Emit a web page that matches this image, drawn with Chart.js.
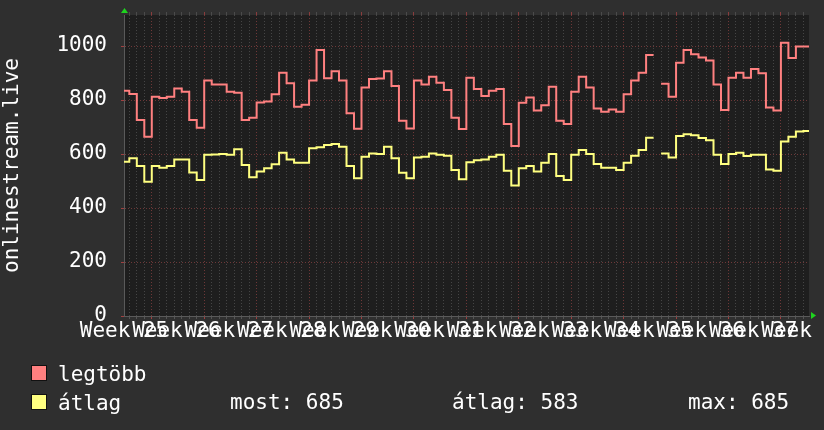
<!DOCTYPE html>
<html>
<head>
<meta charset="utf-8">
<title>onlinestream.live</title>
<script src="https://cdn.jsdelivr.net/npm/chart.js@4/dist/chart.umd.min.js"></script>
<style>
  body { margin: 0; background: #2f2f2f; }
  #wrap { width: 824px; height: 430px; }
</style>
</head>
<body>
<div id="wrap"><canvas id="myChart" width="824" height="430"></canvas></div>
<script>
// daily values, one per day (null = missing day)
const legtobb = [
  834, 822, 726, 664, 812, 808, 812, 843, 831, 726, 697, 872, 858, 858, 831, 827,
  726, 734, 791, 795, 821, 901, 862, 775, 783, 872, 985, 881, 907, 872, 751, 694,
  846, 878, 880, 907, 852, 723, 695, 872, 858, 886, 864, 837, 734, 693, 883, 841,
  815, 834, 841, 711, 630, 790, 809, 761, 781, 849, 723, 711, 831, 886, 846, 769,
  757, 765, 757, 821, 872, 901, 967, null, 860, 812, 938, 985, 970, 958, 946, 858,
  763, 883, 901, 883, 915, 899, 772, 761, 1012, 956, 998, 998
];
const atlag = [
  571, 584, 556, 497, 556, 549, 556, 580, 580, 532, 504, 597, 598, 600, 597, 618,
  559, 514, 535, 547, 562, 605, 580, 568, 568, 621, 625, 633, 637, 627, 556, 510,
  590, 602, 600, 627, 584, 531, 510, 587, 590, 602, 597, 594, 541, 507, 570, 577,
  580, 590, 597, 538, 483, 547, 556, 535, 568, 600, 519, 504, 597, 615, 600, 563,
  549, 549, 541, 568, 594, 615, 660, null, 602, 587, 667, 673, 670, 659, 651, 597,
  563, 600, 605, 593, 597, 597, 543, 538, 646, 664, 683, 685
];
const weekLabels = ['Week 25', 'Week 26', 'Week 27', 'Week 28', 'Week 29', 'Week 30', 'Week 31',
  'Week 32', 'Week 33', 'Week 34', 'Week 35', 'Week 36', 'Week 37', 'Week 38'];
const yTicks = [0, 200, 400, 600, 800, 1000];
const legendRows = ['legtöbb', 'átlag'];
const stats = ['most: 685', 'átlag: 583', 'max: 685'];

const X_MIN = 0.29, X_MAX = 91.75;
const Y_MAX = 1115;
const FONT = { family: "'DejaVu Sans Mono', monospace", size: 21 };
const RED = '#ff8080', YELLOW = '#ffff80';
const GRID_MINOR = '#454545', GRID_MAJOR = '#6e3838';

// each day becomes a flat segment [i, i+1]
function steps(vals) {
    let pts = [];
    vals.forEach((v, i) => {
        if (v === null) { pts.push({ x: i + 0.5, y: null }); return; }
        pts.push({ x: i, y: v }, { x: i + 1, y: v });
    });
    return pts;
}

let dayLines = [];
for (let d = 1; d <= 91; d++) dayLines.push(d);
let hLines = [];
for (let v = 0; v <= 1100; v += 100) hLines.push(v);

const isWeek = v => (v - 4) % 7 === 0;

const extras = {
    id: 'extras',
    beforeDraw(chart) {
        const { ctx, chartArea: a } = chart;
        ctx.save();
        ctx.fillStyle = '#2f2f2f';
        ctx.fillRect(0, 0, chart.width, chart.height);
        ctx.fillStyle = '#1e1e1e';
        ctx.fillRect(a.left, a.top, a.right - a.left, a.bottom - a.top);
        ctx.restore();
    },
    afterDraw(chart) {
        const { ctx, chartArea: a } = chart;
        ctx.save();
        // axis arrows
        ctx.fillStyle = '#1fd31f';
        ctx.beginPath();
        ctx.moveTo(a.left - 3, a.top - 2);
        ctx.lineTo(a.left + 4, a.top - 2);
        ctx.lineTo(a.left + 0.5, a.top - 7);
        ctx.fill();
        ctx.beginPath();
        ctx.moveTo(a.right + 2, a.bottom - 4);
        ctx.lineTo(a.right + 2, a.bottom + 3);
        ctx.lineTo(a.right + 7, a.bottom - 0.5);
        ctx.fill();

        // legend
        ctx.font = FONT.size + 'px ' + FONT.family;
        ctx.textBaseline = 'alphabetic';
        const colors = [RED, YELLOW];
        legendRows.forEach((t, i) => {
            const y = 365 + i * 29;
            ctx.fillStyle = colors[i];
            ctx.fillRect(31, y, 16, 16);
            ctx.strokeStyle = '#111';
            ctx.lineWidth = 1;
            ctx.strokeRect(31.5, y + 0.5, 15, 15);
            ctx.fillStyle = '#ffffff';
            ctx.fillText(t, 58, y + 16);
        });
        const sx = [230, 452, 688];
        stats.forEach((t, i) => ctx.fillText(t, sx[i], 409));
        ctx.restore();
    }
};

const ctx = document.getElementById('myChart').getContext('2d');
const myChart = new Chart(ctx, {
    type: 'line',
    data: {
        datasets: [
            { label: 'legtöbb', data: steps(legtobb), borderColor: RED, borderWidth: 2, pointRadius: 0, clip: 0, xAxisID: 'x', yAxisID: 'y' },
            { label: 'átlag', data: steps(atlag), borderColor: YELLOW, borderWidth: 2, pointRadius: 0, clip: 0, xAxisID: 'x', yAxisID: 'y' }
        ]
    },
    options: {
        responsive: false,
        animation: false,
        layout: { padding: { top: 15, right: 15, bottom: 84, left: 0 } },
        plugins: { legend: { display: false }, tooltip: { enabled: false } },
        scales: {
            xg: {
                type: 'linear', position: 'bottom', min: X_MIN, max: X_MAX,
                afterBuildTicks: s => { s.ticks = dayLines.map(v => ({ value: v })); },
                ticks: { display: false },
                grid: {
                    color: c => isWeek(c.tick.value) ? GRID_MAJOR : GRID_MINOR,
                    tickColor: c => isWeek(c.tick.value) ? '#a04040' : '#555',
                    tickLength: 3
                },
                border: { display: false, dash: [1, 2] },
                afterFit: s => { s.height = 0; s.paddingLeft = 0; s.paddingRight = 0; }
            },
            xtop: {
                type: 'linear', position: 'top', min: X_MIN, max: X_MAX,
                afterBuildTicks: s => { s.ticks = dayLines.map(v => ({ value: v })); },
                ticks: { display: false },
                grid: {
                    drawOnChartArea: false,
                    tickColor: c => isWeek(c.tick.value) ? '#8a3c3c' : '#4a4a4a',
                    tickLength: 3
                },
                border: { display: false },
                afterFit: s => { s.height = 0; s.paddingLeft = 0; s.paddingRight = 0; }
            },
            x: {
                type: 'linear', position: 'bottom', min: X_MIN, max: X_MAX,
                afterBuildTicks: s => { s.ticks = weekLabels.map((l, i) => ({ value: X_MIN + 7 * i })); },
                ticks: {
                    autoSkip: false, maxRotation: 0, minRotation: 0, padding: 3,
                    color: '#ffffff', font: FONT,
                    callback: (v, i) => weekLabels[i]
                },
                grid: { display: false, drawTicks: false },
                border: { display: true, color: '#5a5a5a', width: 1 },
                afterFit: s => { s.height = 30; s.paddingLeft = 0; s.paddingRight = 0; }
            },
            y: {
                type: 'linear', position: 'left', min: 0, max: Y_MAX,
                afterBuildTicks: s => { s.ticks = hLines.map(v => ({ value: v })); },
                ticks: {
                    color: '#ffffff', font: FONT, padding: 14,
                    callback: v => yTicks.includes(v) ? String(v) : ''
                },
                grid: {
                    color: c => c.tick.value % 200 === 0 ? GRID_MAJOR : GRID_MINOR,
                    tickColor: c => c.tick.value % 200 === 0 ? '#a04040' : '#555',
                    tickLength: 3
                },
                border: { display: true, color: '#5a5a5a', width: 1, dash: [1, 2] },
                title: { display: true, text: 'onlinestream.live', color: '#ffffff', font: FONT, padding: 0 },
                afterFit: s => { s.width = 124; s.paddingTop = 0; s.paddingBottom = 0; }
            }
        }
    },
    plugins: [extras]
});
</script>
</body>
</html>
